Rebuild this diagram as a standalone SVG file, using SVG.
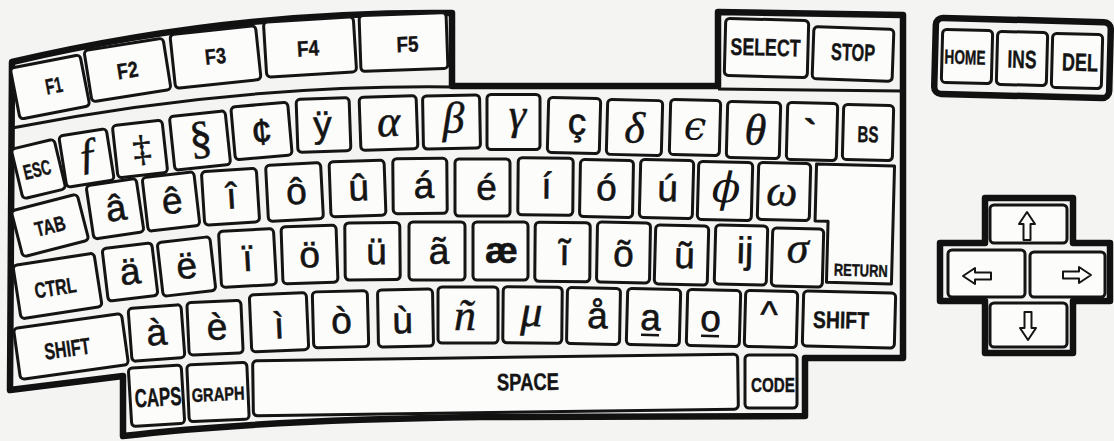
<svg xmlns="http://www.w3.org/2000/svg" width="1114" height="441" viewBox="0 0 1114 441">
<style>
.bg{fill:#f4f4f2}
.key{fill:#fcfcfb;stroke:#141414;stroke-width:3}
.frame{fill:none;stroke:#111;stroke-width:6.5;stroke-linejoin:round}
.sep{fill:none;stroke:#141414;stroke-width:3}
.lb{font-family:"Liberation Sans",Arial,sans-serif;font-weight:bold;fill:#141414;stroke:#141414;stroke-width:0.4;text-anchor:middle}
.ch{font-family:"Liberation Sans",Arial,sans-serif;font-size:37px;fill:#141414;stroke:#141414;stroke-width:0.6;text-anchor:middle}
.gk{font-family:"Liberation Serif","Times New Roman",serif;font-style:italic;font-size:44px;fill:#141414;stroke:#141414;stroke-width:0.5;text-anchor:middle}
.sf{font-family:"Liberation Serif","Times New Roman",serif;fill:#141414;stroke:#141414;stroke-width:0.5;text-anchor:middle}
.dj{font-family:"DejaVu Serif",serif;font-style:italic;fill:#141414;text-anchor:middle}
.arrow{fill:#fcfcfb;stroke:#141414;stroke-width:2;stroke-linejoin:round}
.ul{stroke:#141414;stroke-width:2.5}
</style>
<defs>
<polygon id="arrUp" class="arrow" points="0,-14 8,-2 3.5,-2 3.5,14 -3.5,14 -3.5,-2 -8,-2"/>
</defs>
<rect class="bg" x="0" y="0" width="1114" height="441"/>

<g id="frame">
<path class="frame" d="M 12 62 Q 232 10.5 452 13 L 452 86 L 718 86 L 718 12 L 903 15 L 903 358 L 805 358 L 805 416 L 480 417 Q 260 420 123 436 L 123 376 L 10 390 Z"/>
<path class="sep" d="M 12 128 Q 232 84.5 452 87"/>
<path class="sep" d="M 718 89 L 903 91"/>
<rect class="frame" x="935" y="20" width="175" height="76" rx="7" transform="rotate(1.5 1022 58)"/>
<path class="frame" d="M 985 198 H 1073 V 243 H 1110 V 301 H 1073 V 353 H 985 V 301 H 940 V 243 H 985 Z"/>
</g>

<!-- function keys -->
<g id="k-f1" transform="translate(50 87) rotate(-11)"><rect class="key" x="-35.5" y="-26" width="71" height="52" rx="4"/><text class="lb" x="4" y="6.9" font-size="22" textLength="17" lengthAdjust="spacingAndGlyphs">F1</text></g>
<g id="k-f2" transform="translate(127.5 70) rotate(-9)"><rect class="key" x="-40" y="-26" width="80" height="52" rx="4"/><text class="lb" x="0" y="7.9" font-size="22" textLength="21" lengthAdjust="spacingAndGlyphs">F2</text></g>
<g id="k-f3" transform="translate(215.5 57) rotate(-6)"><rect class="key" x="-43" y="-27" width="86" height="54" rx="4"/><text class="lb" x="0" y="6.9" font-size="22" textLength="21" lengthAdjust="spacingAndGlyphs">F3</text></g>
<g id="k-f4" transform="translate(310 47) rotate(-3.5)"><rect class="key" x="-45" y="-27.5" width="90" height="55" rx="4"/><text class="lb" x="-2" y="8.9" font-size="22" textLength="22" lengthAdjust="spacingAndGlyphs">F4</text></g>
<g id="k-f5" transform="translate(403.5 42) rotate(-2)"><rect class="key" x="-43.5" y="-28" width="87" height="56" rx="4"/><text class="lb" x="4" y="9.9" font-size="22" textLength="22" lengthAdjust="spacingAndGlyphs">F5</text></g>
<g id="k-select" transform="translate(766.5 48) rotate(1.5)"><rect class="key" x="-41.5" y="-28.5" width="83" height="57" rx="4"/><text class="lb" x="-1" y="7.6" font-size="24" textLength="70" lengthAdjust="spacingAndGlyphs">SELECT</text></g>
<g id="k-stop" transform="translate(853 54) rotate(2)"><rect class="key" x="-40" y="-26" width="80" height="52" rx="4"/><text class="lb" x="0" y="6.6" font-size="24" textLength="44" lengthAdjust="spacingAndGlyphs">STOP</text></g>
<g id="k-home" transform="translate(967 56.5) rotate(1.5)"><rect class="key" x="-25" y="-26.5" width="50" height="53" rx="4"/><text class="lb" x="-2" y="7.7" font-size="20" textLength="41" lengthAdjust="spacingAndGlyphs">HOME</text></g>
<g id="k-ins" transform="translate(1022 58.5) rotate(1.5)"><rect class="key" x="-25" y="-26.5" width="50" height="53" rx="4"/><text class="lb" x="0" y="9.4" font-size="25" textLength="29" lengthAdjust="spacingAndGlyphs">INS</text></g>
<g id="k-del" transform="translate(1077 61) rotate(1.5)"><rect class="key" x="-25" y="-27" width="50" height="54" rx="4"/><text class="lb" x="3" y="9.9" font-size="25" textLength="36" lengthAdjust="spacingAndGlyphs">DEL</text></g>

<!-- row 1 -->
<g id="k-esc" transform="translate(38.5 169) rotate(-13.5)"><rect class="key" x="-22" y="-25.5" width="44" height="51" rx="4"/><text class="lb" x="-1.5" y="7.5" font-size="21" textLength="28" lengthAdjust="spacingAndGlyphs">ESC</text></g>
<g id="k-florin" transform="translate(86.5 158) rotate(-9)"><rect class="key" x="-24" y="-26" width="48" height="52" rx="4"/><text class="gk" x="2" y="10" font-size="48">ƒ</text></g>
<g id="k-ddagger" transform="translate(140 149) rotate(-6.3)"><rect class="key" x="-25" y="-26.25" width="50" height="52.5" rx="4"/><text class="sf" x="2" y="12" font-size="37">‡</text></g>
<g id="k-sect" transform="translate(200 140.5) rotate(-6)"><rect class="key" x="-28" y="-27" width="56" height="54" rx="4"/><text class="sf" x="1" y="12.5" font-size="46">§</text></g>
<g id="k-cent" transform="translate(261.5 131) rotate(-5)"><rect class="key" x="-28.5" y="-26.5" width="57" height="53" rx="4"/><text class="ch" x="0" y="13.5" font-size="41">¢</text></g>
<g id="k-ydia" transform="translate(323.5 125) rotate(-2)"><rect class="key" x="-26.5" y="-26.5" width="53" height="53" rx="4"/><text class="ch" x="-1" y="12">ÿ</text></g>
<g id="k-alpha" transform="translate(388.5 123) rotate(-2)"><rect class="key" x="-28.5" y="-26.5" width="57" height="53" rx="4"/><text class="gk" x="0" y="13">α</text></g>
<g id="k-beta" transform="translate(451.5 122) rotate(-1)"><rect class="key" x="-28.5" y="-26.5" width="57" height="53" rx="4"/><text class="gk" x="2" y="10.5">β</text></g>
<g id="k-gamma" transform="translate(513.5 122)"><rect class="key" x="-26.5" y="-27.5" width="53" height="55" rx="4"/><text class="gk" x="4" y="7">γ</text></g>
<g id="k-ccedil" transform="translate(574 125.5) rotate(1.5)"><rect class="key" x="-26" y="-27.5" width="52" height="55" rx="4"/><text class="ch" x="3" y="9">ç</text></g>
<g id="k-delta" transform="translate(634.5 127.5) rotate(1.5)"><rect class="key" x="-27.5" y="-27.5" width="55" height="55" rx="4"/><text class="gk" x="0" y="15">δ</text></g>
<g id="k-epsilon" transform="translate(695 127.5) rotate(1.5)"><rect class="key" x="-25" y="-27.5" width="50" height="55" rx="4"/><text class="dj" x="0" y="12" font-size="40">ϵ</text></g>
<g id="k-theta" transform="translate(753.5 130) rotate(1.5)"><rect class="key" x="-26.5" y="-28" width="53" height="56" rx="4"/><text class="gk" x="2" y="14.5">θ</text></g>
<g id="k-grave" transform="translate(812 131.5) rotate(1.5)"><rect class="key" x="-25" y="-28.5" width="50" height="57" rx="4"/><text class="ch" x="-2" y="14" font-size="44" font-weight="bold">`</text></g>
<g id="k-bs" transform="translate(868 132.5) rotate(1.5)"><rect class="key" x="-25" y="-27.5" width="50" height="55" rx="4"/><text class="lb" x="0" y="9.7" font-size="23" textLength="21" lengthAdjust="spacingAndGlyphs">BS</text></g>

<!-- row 2 -->
<g id="k-tab" transform="translate(50 225.5) rotate(-14.4)"><rect class="key" x="-34" y="-23.75" width="68" height="47.5" rx="4"/><text class="lb" x="0" y="8" font-size="21" textLength="31" lengthAdjust="spacingAndGlyphs">TAB</text></g>
<g id="k-acirc" transform="translate(115 208.75) rotate(-8.5)"><rect class="key" x="-25.3" y="-27" width="50.6" height="54" rx="4"/><text class="ch" x="1" y="12">â</text></g>
<g id="k-ecirc" transform="translate(171 201.5) rotate(-6.6)"><rect class="key" x="-26" y="-27" width="52" height="54" rx="4"/><text class="ch" x="1" y="12">ê</text></g>
<g id="k-icirc" transform="translate(230.5 196.75) rotate(-3.6)"><rect class="key" x="-27.5" y="-26.75" width="55" height="53.5" rx="4"/><text class="ch" x="1" y="12">î</text></g>
<g id="k-ocirc" transform="translate(294.5 192) rotate(-3)"><rect class="key" x="-27.5" y="-28" width="55" height="56" rx="4"/><text class="ch" x="2" y="12">ô</text></g>
<g id="k-ucirc" transform="translate(357.5 188.5) rotate(-2)"><rect class="key" x="-27.5" y="-27.5" width="55" height="55" rx="4"/><text class="ch" x="1" y="12">û</text></g>
<g id="k-aacute" transform="translate(420 186) rotate(-0.5)"><rect class="key" x="-27" y="-27.5" width="54" height="55" rx="4"/><text class="ch" x="4" y="12">á</text></g>
<g id="k-eacute" transform="translate(482.5 187.5)"><rect class="key" x="-27.5" y="-28.5" width="55" height="57" rx="4"/><text class="ch" x="4" y="12">é</text></g>
<g id="k-iacute" transform="translate(545.5 186.5) rotate(0.5)"><rect class="key" x="-27.5" y="-28.5" width="55" height="57" rx="4"/><text class="ch" x="1" y="12">í</text></g>
<g id="k-oacute" transform="translate(606.5 188.5) rotate(1)"><rect class="key" x="-26.5" y="-28.5" width="53" height="57" rx="4"/><text class="ch" x="0" y="12">ó</text></g>
<g id="k-uacute" transform="translate(666.5 189) rotate(1.5)"><rect class="key" x="-26.5" y="-29" width="53" height="58" rx="4"/><text class="ch" x="1" y="12">ú</text></g>
<g id="k-phi" transform="translate(725 191) rotate(1.5)"><rect class="key" x="-27" y="-29" width="54" height="58" rx="4"/><text class="dj" x="1" y="11" font-size="42">ϕ</text></g>
<g id="k-omega" transform="translate(784 191.5) rotate(1.5)"><rect class="key" x="-26" y="-28.5" width="52" height="57" rx="4"/><text class="gk" x="-2" y="14">ω</text></g>
<g id="k-return" transform="rotate(1.5 854 224)"><path class="key" stroke-linejoin="round" d="M 815 165 H 893 V 283 H 828 V 222 H 815 Z"/><text class="lb" x="862" y="276" font-size="17" textLength="54" lengthAdjust="spacingAndGlyphs">RETURN</text></g>

<!-- row 3 -->
<g id="k-ctrl" transform="translate(57.5 286) rotate(-8.8)"><rect class="key" x="-41" y="-27" width="82" height="54" rx="4"/><text class="lb" x="-2.5" y="8.9" font-size="22" textLength="42" lengthAdjust="spacingAndGlyphs">CTRL</text></g>
<g id="k-auml" transform="translate(130 272) rotate(-6.8)"><rect class="key" x="-25" y="-26.5" width="50" height="53" rx="4"/><text class="ch" x="0" y="12">ä</text></g>
<g id="k-euml" transform="translate(186.5 266.5) rotate(-6.5)"><rect class="key" x="-26.5" y="-27" width="53" height="54" rx="4"/><text class="ch" x="0" y="12">ë</text></g>
<g id="k-iuml" transform="translate(247.5 258) rotate(-3.2)"><rect class="key" x="-27.5" y="-28" width="55" height="56" rx="4"/><text class="ch" x="0" y="13">ï</text></g>
<g id="k-ouml" transform="translate(309.5 254.5) rotate(-2)"><rect class="key" x="-27.5" y="-28.5" width="55" height="57" rx="4"/><text class="ch" x="0" y="13">ö</text></g>
<g id="k-uuml" transform="translate(372.5 251.25) rotate(-0.5)"><rect class="key" x="-27.5" y="-28.5" width="55" height="57" rx="4"/><text class="ch" x="4" y="13">ü</text></g>
<g id="k-atilde" transform="translate(437 251)"><rect class="key" x="-28" y="-29" width="56" height="58" rx="4"/><text class="ch" x="2" y="13">ã</text></g>
<g id="k-aelig" transform="translate(500.5 251)"><rect class="key" x="-27.5" y="-29" width="55" height="58" rx="4"/><text class="ch" x="1" y="12" font-weight="bold">æ</text></g>
<g id="k-itilde" transform="translate(562.5 252) rotate(0.5)"><rect class="key" x="-27.5" y="-29.5" width="55" height="59" rx="4"/><text class="ch" x="2" y="13">ĩ</text></g>
<g id="k-otilde" transform="translate(623.5 252.5) rotate(1)"><rect class="key" x="-26.5" y="-30" width="53" height="60" rx="4"/><text class="ch" x="0" y="14">õ</text></g>
<g id="k-utilde" transform="translate(681.5 255) rotate(1.5)"><rect class="key" x="-26.5" y="-29.5" width="53" height="59" rx="4"/><text class="ch" x="3" y="13">ũ</text></g>
<g id="k-ij" transform="translate(741 255) rotate(1.5)"><rect class="key" x="-26" y="-29.5" width="52" height="59" rx="4"/><text class="ch" x="4" y="8">ij</text></g>
<g id="k-sigma" transform="translate(797.5 257.5) rotate(1.5)"><rect class="key" x="-25.5" y="-29" width="51" height="58" rx="4"/><text class="gk" x="0" y="5">σ</text></g>

<!-- row 4 -->
<g id="k-shift-l" transform="translate(71 346.5) rotate(-7.9)"><rect class="key" x="-54.5" y="-25.75" width="109" height="51.5" rx="4"/><text class="lb" x="-4" y="9.7" font-size="23" textLength="46" lengthAdjust="spacingAndGlyphs">SHIFT</text></g>
<g id="k-agrave" transform="translate(156.5 333) rotate(-4.3)"><rect class="key" x="-26.5" y="-26.5" width="53" height="53" rx="4"/><text class="ch" x="0" y="12">à</text></g>
<g id="k-egrave" transform="translate(215 327.75) rotate(-2.6)"><rect class="key" x="-27" y="-26.25" width="54" height="52.5" rx="4"/><text class="ch" x="2" y="12">è</text></g>
<g id="k-igrave" transform="translate(279 322.25) rotate(-2.5)"><rect class="key" x="-28.5" y="-28.5" width="57" height="57" rx="4"/><text class="ch" x="0" y="16">ì</text></g>
<g id="k-ograve" transform="translate(340.5 319.25) rotate(-1.5)"><rect class="key" x="-27.5" y="-28" width="55" height="56" rx="4"/><text class="ch" x="1" y="14">ò</text></g>
<g id="k-ugrave" transform="translate(405.5 318) rotate(-1)"><rect class="key" x="-27.5" y="-28.5" width="55" height="57" rx="4"/><text class="ch" x="-3" y="15">ù</text></g>
<g id="k-ntilde" transform="translate(468 315)"><rect class="key" x="-30" y="-28" width="60" height="56" rx="4"/><text class="gk" x="-3" y="15" font-size="46">ñ</text></g>
<g id="k-mu" transform="translate(532.5 315) rotate(0.5)"><rect class="key" x="-29.5" y="-28" width="59" height="56" rx="4"/><text class="gk" x="-1" y="11">μ</text></g>
<g id="k-aring" transform="translate(593.5 316) rotate(1)"><rect class="key" x="-26.5" y="-28" width="53" height="56" rx="4"/><text class="ch" x="4" y="12">å</text></g>
<g id="k-aord" transform="translate(653.5 317) rotate(1.5)"><rect class="key" x="-26.5" y="-28" width="53" height="56" rx="4"/><text class="ch" x="-3" y="13" font-size="32">a</text><line class="ul" x1="-12" y1="18" x2="6" y2="18"/></g>
<g id="k-oord" transform="translate(713.5 318) rotate(1.5)"><rect class="key" x="-26.5" y="-28" width="53" height="56" rx="4"/><text class="ch" x="-3" y="13" font-size="32">o</text><line class="ul" x1="-12" y1="18" x2="6" y2="18"/></g>
<g id="k-caret" transform="translate(771 319) rotate(1.5)"><rect class="key" x="-26" y="-28" width="52" height="56" rx="4"/><text class="ch" x="-2" y="8" font-size="34">^</text></g>
<g id="k-shift-r" transform="translate(849 319.5) rotate(1.5)"><rect class="key" x="-46" y="-27.5" width="92" height="55" rx="4"/><text class="lb" x="-8" y="9.1" font-size="24" textLength="56" lengthAdjust="spacingAndGlyphs">SHIFT</text></g>

<!-- row 5 -->
<g id="k-caps" transform="translate(156.5 395.75) rotate(-3.5)"><rect class="key" x="-26.5" y="-29.25" width="53" height="58.5" rx="4"/><text class="lb" x="1.5" y="10.5" font-size="26" textLength="47" lengthAdjust="spacingAndGlyphs">CAPS</text></g>
<g id="k-graph" transform="translate(218 392) rotate(-2.5)"><rect class="key" x="-30" y="-28.5" width="60" height="57" rx="4"/><text class="lb" x="0" y="8.8" font-size="19" textLength="53" lengthAdjust="spacingAndGlyphs">GRAPH</text></g>
<g id="k-space" transform="translate(495.5 385) rotate(-0.8)"><rect class="key" x="-242.5" y="-27.5" width="485" height="55" rx="4"/><text class="lb" x="32.5" y="5.6" font-size="24" textLength="62" lengthAdjust="spacingAndGlyphs">SPACE</text></g>
<g id="k-code" transform="translate(771 381.5)"><rect class="key" x="-26" y="-26.5" width="52" height="53" rx="4"/><text class="lb" x="2" y="10" font-size="21" textLength="44" lengthAdjust="spacingAndGlyphs">CODE</text></g>

<!-- cursor keys -->
<g id="k-up"><rect class="key" x="990" y="205" width="77" height="38" rx="4"/><use href="#arrUp" transform="translate(1027 226)"/></g>
<g id="k-left"><rect class="key" x="948" y="250" width="77" height="47" rx="4"/><use href="#arrUp" transform="translate(977 276) rotate(-90)"/></g>
<g id="k-right"><rect class="key" x="1030" y="252" width="75" height="45" rx="4"/><use href="#arrUp" transform="translate(1077 275) rotate(90)"/></g>
<g id="k-down"><rect class="key" x="990" y="303" width="77" height="44" rx="4"/><use href="#arrUp" transform="translate(1028 326) rotate(180)"/></g>
</svg>
